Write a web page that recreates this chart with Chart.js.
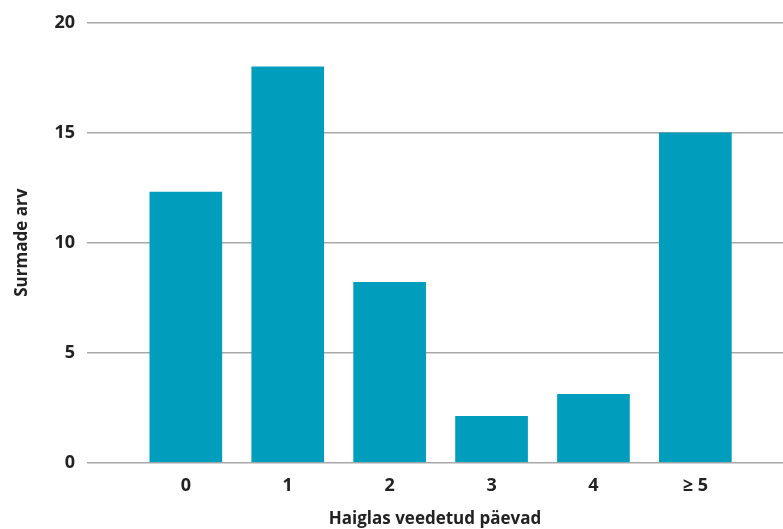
<!DOCTYPE html>
<html>
<head>
<meta charset="utf-8">
<script src="https://cdn.jsdelivr.net/npm/chart.js@4"></script>
<style>
  html, body { margin: 0; padding: 0; background: #fff; }
  #wrap { width: 783px; height: 529px; }
</style>
</head>
<body>
<div id="wrap"><canvas id="chart"></canvas></div>
<script>
// categories and values
const dayLabels = ["0", "1", "2", "3", "4", "≥ 5"];
const deaths = [12.3, 18, 8.2, 2.1, 3.1, 15];
const yTicks = [0, 5, 10, 15, 20];

const barColor = "#019dbd";
const textColor = "#222222";
const fontFamily = "'Open Sans', sans-serif";

// bars sit on a numeric x axis so the grid can run past the first and last bar
const points = deaths.map((v, i) => ({ x: i, y: v }));

new Chart(document.getElementById("chart"), {
    type: "bar",
    data: {
        datasets: [{
            data: points,
            backgroundColor: barColor,
            borderWidth: 0,
            barThickness: 72
        }]
    },
    options: {
        responsive: true,
        maintainAspectRatio: false,
        animation: false,
        layout: { padding: { top: 10, right: 0, bottom: 0, left: 12 } },
        plugins: {
            legend: { display: false },
            tooltip: { enabled: false }
        },
        scales: {
            x: {
                type: "linear",
                offset: false,
                min: -0.97,
                max: 5.86,
                grid: { display: false, drawTicks: false },
                border: { display: false },
                afterBuildTicks: axis => {
                    axis.ticks = dayLabels.map((l, i) => ({ value: i }));
                },
                ticks: {
                    autoSkip: false,
                    maxRotation: 0,
                    padding: 14,
                    color: textColor,
                    font: { family: fontFamily, size: 18, weight: "bold", lineHeight: 1 },
                    callback: value => dayLabels[value]
                },
                title: {
                    display: true,
                    text: "Haiglas veedetud päevad",
                    color: textColor,
                    padding: { top: 0, bottom: 0 },
                    font: { family: fontFamily, size: 17, weight: "bold" }
                }
            },
            y: {
                min: 0,
                max: 20,
                afterBuildTicks: axis => {
                    axis.ticks = yTicks.map(v => ({ value: v }));
                },
                grid: { color: "#a8a8a8", lineWidth: 1.5, drawTicks: false },
                border: { display: false },
                ticks: {
                    padding: 12,
                    color: textColor,
                    font: { family: fontFamily, size: 18, weight: "bold" }
                },
                title: {
                    display: true,
                    text: "Surmade arv",
                    color: textColor,
                    padding: { top: 0, bottom: 10 },
                    font: { family: fontFamily, size: 17, weight: "bold" }
                }
            }
        }
    }
});
</script>
</body>
</html>
